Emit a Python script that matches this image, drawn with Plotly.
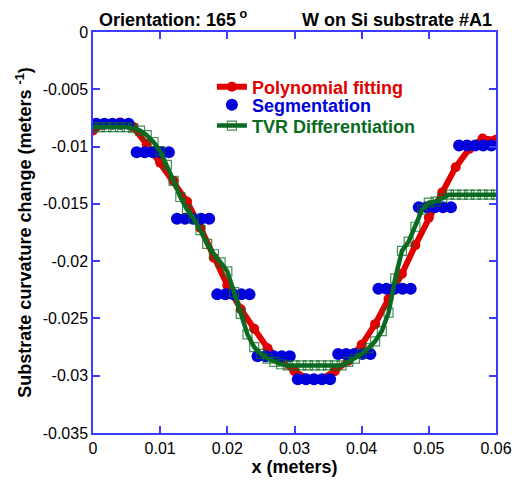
import plotly.graph_objects as go

# Polynomial fit of curvature change along x
poly_x = [0.000, 0.002, 0.004, 0.006, 0.008, 0.010, 0.012, 0.014, 0.016, 0.018,
          0.020, 0.022, 0.024, 0.026, 0.028, 0.030, 0.032, 0.034, 0.036, 0.038,
          0.040, 0.042, 0.044, 0.046, 0.048, 0.050, 0.052, 0.054, 0.056, 0.058, 0.060]
poly_y = [-0.0086, -0.0080, -0.0079, -0.0083, -0.0098, -0.0114, -0.0130, -0.0148, -0.0171, -0.0197,
          -0.0221, -0.0242, -0.0259, -0.0276, -0.0287, -0.0296, -0.0303, -0.0303, -0.0296, -0.0287,
          -0.0273, -0.0255, -0.0233, -0.0211, -0.0186, -0.0162, -0.0140, -0.0118, -0.0102, -0.0093, -0.0094]

# Segmentation estimates (piecewise constant groups)
seg_x = [0.0005, 0.0017, 0.0029, 0.0041, 0.0053,
         0.0065, 0.0077, 0.0089, 0.0101, 0.0113,
         0.0125, 0.0137, 0.0149, 0.0161, 0.0173,
         0.0185, 0.0197, 0.0209, 0.0221, 0.0233,
         0.0245, 0.0257, 0.0269, 0.0281, 0.0293,
         0.0305, 0.0317, 0.0329, 0.0341, 0.0353,
         0.0365, 0.0377, 0.0389, 0.0401, 0.0413,
         0.0425, 0.0437, 0.0449, 0.0461, 0.0473,
         0.0485, 0.0497, 0.0509, 0.0521, 0.0533,
         0.0545, 0.0557, 0.0569, 0.0581, 0.0593]
seg_y = [-0.0080] * 5 + [-0.0105] * 5 + [-0.0163] * 5 + [-0.0229] * 5 + [-0.0283] * 5 + \
        [-0.0303] * 5 + [-0.0281] * 5 + [-0.0224] * 5 + [-0.0153] * 5 + [-0.0099] * 5

# Total-variation-regularized differentiation
tvr_x = [0.000, 0.001, 0.002, 0.003, 0.004, 0.005, 0.006, 0.007, 0.008, 0.009,
         0.010, 0.011, 0.012, 0.013, 0.014, 0.015, 0.016, 0.017, 0.018, 0.019,
         0.020, 0.021, 0.022, 0.023, 0.024, 0.025, 0.026, 0.027, 0.028, 0.029,
         0.030, 0.031, 0.032, 0.033, 0.034, 0.035, 0.036, 0.037, 0.038, 0.039,
         0.040, 0.041, 0.042, 0.043, 0.044, 0.045, 0.046, 0.047, 0.048, 0.049,
         0.050, 0.051, 0.052, 0.053, 0.054, 0.055, 0.056, 0.057, 0.058, 0.059, 0.060]
tvr_y = [-0.0083, -0.0083, -0.0083, -0.0083, -0.0083, -0.0083, -0.0084, -0.0086, -0.0090, -0.0096,
         -0.0104, -0.0116, -0.0130, -0.0144, -0.0155, -0.0163, -0.0173, -0.0185, -0.0194, -0.0201,
         -0.0209, -0.0227, -0.0246, -0.0264, -0.0275, -0.0281, -0.0285, -0.0288, -0.0290, -0.0291,
         -0.0291, -0.0291, -0.0291, -0.0291, -0.0291, -0.0291, -0.0291, -0.0291, -0.0288, -0.0285,
         -0.0281, -0.0276, -0.0270, -0.0261, -0.0245, -0.0215, -0.0191, -0.0183, -0.0170, -0.0155,
         -0.0149, -0.0148, -0.0145, -0.0142, -0.0142, -0.0142, -0.0142, -0.0142, -0.0142, -0.0142, -0.0142]

x_ticks = [0, 0.01, 0.02, 0.03, 0.04, 0.05, 0.06]
x_labels = ["0", "0.01", "0.02", "0.03", "0.04", "0.05", "0.06"]
y_ticks = [0, -0.005, -0.01, -0.015, -0.02, -0.025, -0.03, -0.035]
y_labels = ["0", "-0.005", "-0.01", "-0.015", "-0.02", "-0.025", "-0.03", "-0.035"]

RED = "#e00000"
BLUE = "#0000dd"
GREEN = "#0a6a22"
FRAME = "#3c3cff"
FONT = "Liberation Sans, Arial, sans-serif"

fig = go.Figure()
fig.add_trace(go.Scatter(
    x=poly_x, y=poly_y, mode="lines+markers",
    name=f"<span style='color:{RED}'>Polynomial fitting</span>",
    line=dict(color=RED, width=6),
    marker=dict(color=RED, size=10, symbol="circle"),
    legend="legend",
))
fig.add_trace(go.Scatter(
    x=seg_x, y=seg_y, mode="markers",
    name=f"<span style='color:{BLUE}'>Segmentation</span>",
    marker=dict(color=BLUE, size=12, symbol="circle"),
    legend="legend2",
))
fig.add_trace(go.Scatter(
    x=tvr_x, y=tvr_y, mode="lines+markers",
    name=f"<span style='color:{GREEN}'>TVR Differentiation</span>",
    line=dict(color=GREEN, width=4.5),
    marker=dict(symbol="square-open", size=9, color="rgba(10,106,34,0.75)",
                line=dict(width=1.2, color="rgba(10,106,34,0.75)")),
    legend="legend3",
))

axis_common = dict(
    showline=True, linecolor=FRAME, linewidth=1.5, mirror="ticks",
    ticks="inside", ticklen=7, tickcolor=FRAME, tickwidth=1.5,
    showgrid=False, zeroline=False, automargin=False,
    tickfont=dict(family=FONT, size=16, color="black"),
)

legend_common = dict(
    xanchor="left", yanchor="middle", bgcolor="rgba(0,0,0,0)",
    font=dict(family=FONT, size=18, color="black", weight="bold"),
)

fig.update_layout(
    width=518, height=487,
    margin=dict(l=93, r=22, t=32, b=54),
    paper_bgcolor="white", plot_bgcolor="white",
    font=dict(family=FONT, color="black"),
    showlegend=True,
    legend=dict(x=0.295, y=0.863, **legend_common),
    legend2=dict(x=0.295, y=0.818, **legend_common),
    legend3=dict(x=0.295, y=0.766, **legend_common),
    xaxis=dict(
        range=[0, 0.06], tickvals=x_ticks, ticktext=x_labels,
        title=dict(text="<b>x (meters)</b>", font=dict(family=FONT, size=18), standoff=2),
        **axis_common,
    ),
    yaxis=dict(
        range=[-0.035, 0], tickvals=y_ticks, ticktext=y_labels,
        title=dict(text="<b>Substrate curvature change (meters <sup>-1</sup>)</b>",
                   font=dict(family=FONT, size=18), standoff=6),
        **axis_common,
    ),
    annotations=[
        dict(text="<b>Orientation: 165<sup> o</sup></b>", xref="paper", yref="paper",
             x=0.01, y=1.0, xanchor="left", yanchor="bottom", showarrow=False,
             font=dict(family=FONT, size=18, color="black"), yshift=0),
        dict(text="<b>W on Si substrate #A1</b>", xref="paper", yref="paper",
             x=0.995, y=1.0, xanchor="right", yanchor="bottom", showarrow=False,
             font=dict(family=FONT, size=18, color="black"), yshift=0),
    ],
)

fig.write_html("out.html")
